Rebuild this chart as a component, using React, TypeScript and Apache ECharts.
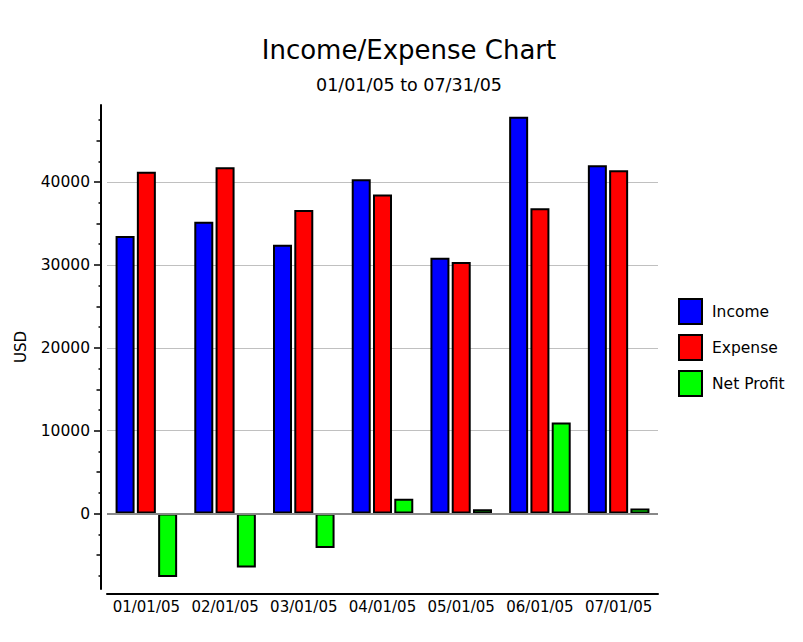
import React, { useEffect, useRef } from "react";
import * as echarts from "echarts";

const categories = ["01/01/05", "02/01/05", "03/01/05", "04/01/05", "05/01/05", "06/01/05", "07/01/05"];
const income = [33500, 35200, 32450, 40350, 30880, 47870, 42020];
const expense = [41250, 41780, 36630, 38500, 30370, 36840, 41420];
const netProfit = [-7650, -6500, -4150, 1800, 510, 11000, 600];
const yMajorTicks = [0, 10000, 20000, 30000, 40000];
const yMediumTicks = [-5000, 5000, 15000, 25000, 35000, 45000];
const yMinorTicks = [-7500, -2500, 2500, 7500, 12500, 17500, 22500, 27500, 32500, 37500, 42500, 47500];
const yMin = -9100;
const yMax = 49300;

const FONT = "DejaVu Sans";

export default function App() {
  const ref = useRef<HTMLDivElement>(null);
  useEffect(() => {
    if (!ref.current) return;
    const chart = echarts.init(ref.current, undefined, { renderer: "svg" });
    const baseY = {
      type: "value",
      position: "left",
      offset: 6,
      min: yMin,
      max: yMax,
      splitLine: { show: false },
      axisLabel: { show: false },
      axisLine: { show: false },
    };
    const barStyle = (color: string) => ({ color, borderColor: "#000", borderWidth: 2 });
    chart.setOption({
      animation: false,
      backgroundColor: "#fff",
      title: {
        text: "Income/Expense Chart",
        subtext: "01/01/05 to 07/31/05",
        left: 404,
        textAlign: "center",
        top: 32,
        itemGap: 13,
        textStyle: { fontFamily: FONT, fontSize: 26, fontWeight: "normal", color: "#000" },
        subtextStyle: { fontFamily: FONT, fontSize: 17.5, color: "#000" },
      },
      legend: {
        orient: "vertical",
        left: 673,
        top: 293,
        itemWidth: 23,
        itemHeight: 25,
        itemGap: 9,
        icon: "rect",
        itemStyle: { borderColor: "#000", borderWidth: 2 },
        textStyle: { fontFamily: FONT, fontSize: 15.5, color: "#000", padding: [0, 0, 0, 5] },
        data: ["Income", "Expense", "Net Profit"],
      },
      grid: { left: 107, right: 145, top: 105, bottom: 53, containLabel: false },
      xAxis: {
        type: "category",
        data: categories,
        position: "bottom",
        offset: 5,
        axisLine: { show: true, onZero: false, lineStyle: { color: "#000", width: 2 } },
        axisTick: { show: false },
        axisLabel: { interval: 0, fontFamily: FONT, fontSize: 15, color: "#000", margin: 5 },
        splitLine: { show: false },
      },
      yAxis: [
        {
          ...baseY,
          name: "USD",
          nameLocation: "middle",
          nameGap: 73,
          nameTextStyle: { fontFamily: FONT, fontSize: 15, color: "#000" },
          axisLine: { show: true, lineStyle: { color: "#000", width: 2 } },
          axisTick: { show: true, customValues: yMajorTicks, length: 7, lineStyle: { color: "#000", width: 1.5 } },
          axisLabel: {
            show: true,
            customValues: yMajorTicks,
            formatter: (v: number) => String(v),
            fontFamily: FONT,
            fontSize: 15.5,
            color: "#000",
            margin: 11,
          },
          splitLine: { show: true, lineStyle: { color: "#c0c0c0", width: 1 } },
        },
        {
          ...baseY,
          axisTick: { show: true, customValues: yMediumTicks, length: 4.5, lineStyle: { color: "#000", width: 1.5 } },
        },
        {
          ...baseY,
          axisTick: { show: true, customValues: yMinorTicks, length: 2.5, lineStyle: { color: "#000", width: 1.5 } },
        },
      ],
      series: [
        {
          name: "Income",
          type: "bar",
          data: income,
          barWidth: 19,
          barGap: "12%",
          itemStyle: barStyle("#0000ff"),
          markLine: {
            silent: true,
            symbol: "none",
            label: { show: false },
            lineStyle: { color: "#888", width: 2, type: "solid" },
            data: [{ yAxis: 0 }],
          },
        },
        { name: "Expense", type: "bar", data: expense, barWidth: 19, barGap: "12%", itemStyle: barStyle("#ff0000") },
        { name: "Net Profit", type: "bar", data: netProfit, barWidth: 19, barGap: "12%", itemStyle: barStyle("#00ff00") },
      ],
    });
    return () => chart.dispose();
  }, []);
  return <div ref={ref} style={{ position: "fixed", left: 0, top: 0, width: 803, height: 642 }} />;
}
